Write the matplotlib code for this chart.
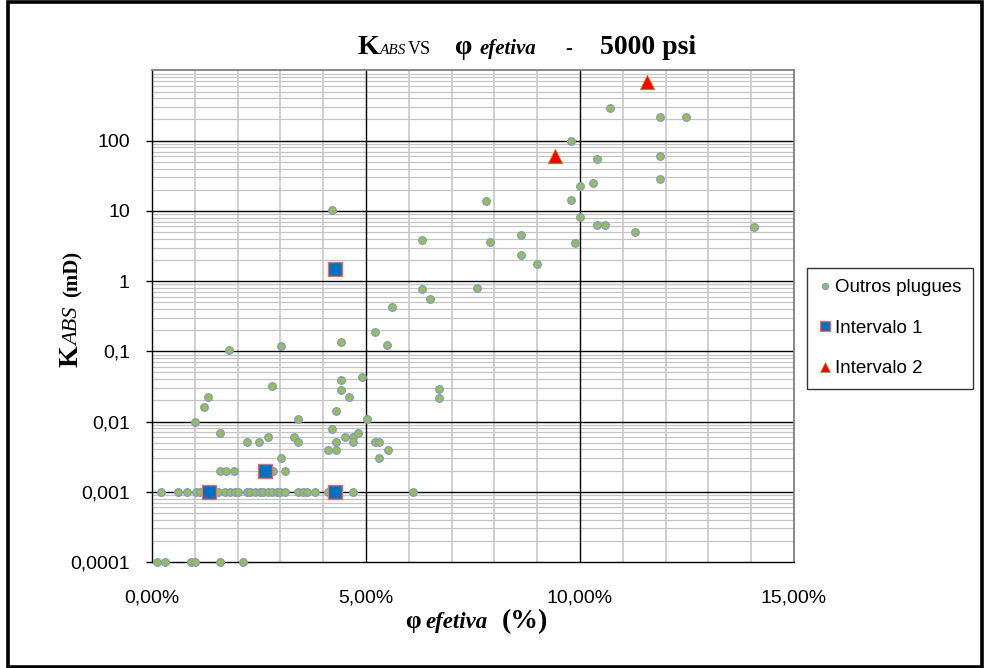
import matplotlib
matplotlib.use("Agg")
import matplotlib.pyplot as plt
from matplotlib.ticker import FixedLocator, FixedFormatter
from matplotlib.lines import Line2D
from matplotlib.patches import Rectangle

# ---------------- data ----------------
# Outros plugues (phi efetiva in %, K abs in mD)
outros_phi_pct = [
    0.21, 0.61, 0.81, 1.02, 1.12, 1.55, 1.71, 1.82, 1.94, 2.02, 2.21, 2.29, 2.41, 2.52,
    2.60, 2.72, 2.80, 2.91, 2.99, 3.10, 3.42, 3.52, 3.61, 3.81, 4.11, 4.70, 6.10,
    0.11, 0.30, 0.90, 1.00, 1.60, 2.12,
    1.60, 1.73, 1.92, 2.82, 3.11,
    1.81, 3.01, 2.81, 1.31, 1.21, 1.01, 3.41, 1.60, 2.21, 2.51, 2.71, 3.31, 3.41, 3.01,
    4.31, 5.02, 4.21, 4.51, 4.70, 4.81, 4.31, 4.70, 5.21, 5.30, 4.11, 4.31, 5.51, 5.30,
    5.60, 5.21, 5.50, 4.41, 4.41, 4.90, 4.41, 4.61, 6.71, 6.71,
    4.21, 6.30, 6.30, 6.50,
    10.70, 11.88, 12.48, 9.80, 10.40, 11.88, 11.88, 10.30, 10.00, 9.80, 7.80, 10.00,
    10.40, 10.59, 11.28, 14.07, 8.61, 7.90, 9.89, 8.61, 9.00, 7.60,
]
outros_k = [
    0.001, 0.001, 0.001, 0.001, 0.001, 0.001, 0.001, 0.001, 0.001, 0.001, 0.001, 0.001, 0.001, 0.001,
    0.001, 0.001, 0.001, 0.001, 0.001, 0.001, 0.001, 0.001, 0.001, 0.001, 0.001, 0.001, 0.001,
    0.0001, 0.0001, 0.0001, 0.0001, 0.0001, 0.0001,
    0.002, 0.002, 0.002, 0.002, 0.002,
    0.106, 0.119, 0.032, 0.0227, 0.016, 0.0098, 0.0109, 0.0069, 0.0051, 0.0051, 0.006, 0.006, 0.0051, 0.003,
    0.0139, 0.0108, 0.0079, 0.006, 0.006, 0.0069, 0.0051, 0.0051, 0.0051, 0.0051, 0.0039, 0.0039, 0.0039, 0.003,
    0.43, 0.187, 0.125, 0.135, 0.0385, 0.043, 0.0277, 0.0227, 0.029, 0.0215,
    10.2, 3.8, 0.76, 0.55,
    296, 217, 215, 97.7, 54.7, 60.4, 28.6, 24.7, 22.5, 14.4, 13.9, 8.2,
    6.2, 6.2, 4.99, 5.87, 4.5, 3.6, 3.45, 2.37, 1.73, 0.80,
]
int1_phi_pct = [1.34, 2.65, 4.28, 4.28]
int1_k = [0.001, 0.002, 0.001, 1.5]
int2_phi_pct = [9.41, 11.56]
int2_k = [60, 680]

series_names = ["Outros plugues", "Intervalo 1", "Intervalo 2"]
ytick_values = [0.0001, 0.001, 0.01, 0.1, 1, 10, 100]
ytick_labels = ["0,0001", "0,001", "0,01", "0,1", "1", "10", "100"]
xtick_values = [0.0, 0.05, 0.10, 0.15]
xtick_labels = ["0,00%", "5,00%", "10,00%", "15,00%"]

# ---------------- figure ----------------
W, H = 989, 668
fig = plt.figure(figsize=(W / 100, H / 100), dpi=100)
fig.patch.set_facecolor("white")
ax = fig.add_axes([152 / W, 1 - 562 / H, (794 - 152) / W, (562 - 70.4) / H])

ax.set_yscale("log")
ax.set_ylim(1e-4, 1e3)
ax.set_xlim(0, 0.15)

GREEN = "#9BBB59"
GEDGE = "#7E9CC6"
BLUE = "#0070C0"
SEDGE = "#E0706A"
RED = "#FF0000"

ax.scatter([p / 100 for p in outros_phi_pct], outros_k, s=30, c=GREEN,
           edgecolors=GEDGE, linewidths=0.9, zorder=3, clip_on=False)
ax.scatter([p / 100 for p in int1_phi_pct], int1_k, s=92, marker="s", c=BLUE,
           edgecolors=SEDGE, linewidths=1.0, zorder=4, clip_on=False)
ax.scatter([p / 100 for p in int2_phi_pct], int2_k, s=110, marker="^", c=RED,
           edgecolors="#A0A040", linewidths=0.6, zorder=5, clip_on=False)

# grid
minor_y = [m * 10.0 ** e for e in range(-4, 3) for m in range(2, 10)]
for v in minor_y:
    ax.axhline(v, color="#C4C4C4", lw=0.9, zorder=1)
for v in [1e-3, 1e-2, 1e-1, 1, 10, 100]:
    ax.axhline(v, color="black", lw=1.0, zorder=2)
for i in range(1, 15):
    xv = i / 100
    if i % 5 == 0:
        ax.axvline(xv, color="black", lw=1.0, zorder=2)
    else:
        ax.axvline(xv, color="#C4C4C4", lw=1.1, zorder=1)

ax.yaxis.set_major_locator(FixedLocator(ytick_values))
ax.yaxis.set_major_formatter(FixedFormatter(ytick_labels))
ax.yaxis.set_minor_locator(FixedLocator([]))
ax.xaxis.set_major_locator(FixedLocator(xtick_values))
ax.xaxis.set_major_formatter(FixedFormatter(xtick_labels))
ax.xaxis.set_minor_locator(FixedLocator([]))

ax.tick_params(axis="y", which="major", length=4, width=1, direction="out",
               pad=12, labelsize=14, color="black")
ax.tick_params(axis="x", which="major", length=0, pad=20, labelsize=14)
for lab in ax.get_xticklabels() + ax.get_yticklabels():
    lab.set_family("Liberation Sans")

for side in ["left", "bottom"]:
    ax.spines[side].set_color("black")
    ax.spines[side].set_linewidth(1.0)
for side in ["right", "top"]:
    ax.spines[side].set_color("#7F7F7F")
    ax.spines[side].set_linewidth(1.3)

# ---------------- composite texts ----------------
SERIF = ["Liberation Serif", "DejaVu Serif"]


def put(s, px, py, rotation=0, **kw):
    """px, py: pixel position (from top-left) of the baseline start."""
    fig.text(px / W, 1 - py / H, s, ha="left", va="baseline", rotation=rotation,
             rotation_mode="anchor", family=SERIF, **kw)


# title
put("K", 358, 54, fontsize=20, weight="bold")
put("ABS", 380, 54, fontsize=11, style="italic")
put("VS", 408, 54, fontsize=13)
put("φ", 455, 54, fontsize=20, weight="bold")
put("efetiva", 480, 54, fontsize=15, style="italic", weight="bold")
put("-", 565, 54, fontsize=15, weight="bold")
put("5000 psi", 600, 54, fontsize=20, weight="bold")

# y label (rotated, reading upward)
put("K", 78, 367, rotation=90, fontsize=20, weight="bold")
put("ABS", 78, 346, rotation=90, fontsize=16, style="italic")
put("(mD)", 78, 297, rotation=90, fontsize=15, weight="bold")

# x label
put("φ", 405, 628, fontsize=18, weight="bold")
put("efetiva", 425, 628, fontsize=16.5, style="italic", weight="bold")
put("(%)", 502, 628, fontsize=20, weight="bold")

# ---------------- legend ----------------
handles = [
    Line2D([], [], ls="none", marker="o", ms=4.5, mfc=GREEN, mec=GEDGE, mew=0.8),
    Line2D([], [], ls="none", marker="s", ms=6.5, mfc=BLUE, mec=SEDGE, mew=0.9),
    Line2D([], [], ls="none", marker="^", ms=6.5, mfc=RED, mec="#A0A040", mew=0.5),
]
leg = fig.legend(handles, series_names, loc="upper left",
                 bbox_to_anchor=(807 / W, 1 - 268 / H), frameon=True, fancybox=False,
                 edgecolor="#333333", framealpha=1, handlelength=0.7, handletextpad=0.2,
                 labelspacing=1.25, borderpad=0.6, borderaxespad=0,
                 prop={"family": "Liberation Sans", "size": 13.5})
leg.get_frame().set_linewidth(1.0)

# figure border
fig.patches.append(Rectangle((8 / W, 1.5 / H), (982 - 8) / W, (666 - 1.5) / H,
                             transform=fig.transFigure, fill=False, edgecolor="black",
                             linewidth=2.6, zorder=10))

fig.savefig("out.png", dpi=100, facecolor="white")
